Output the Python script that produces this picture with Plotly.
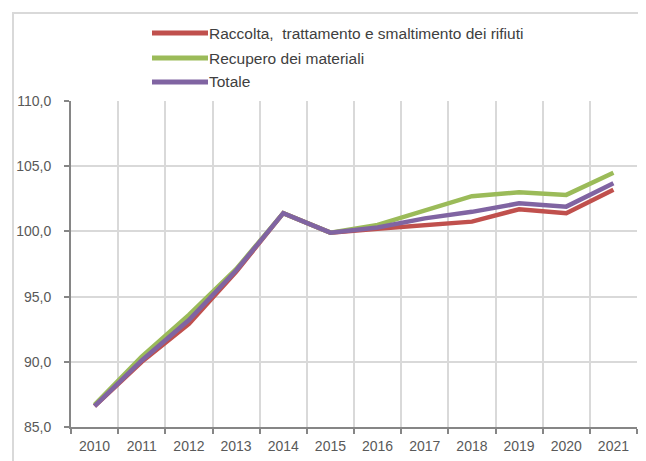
import plotly.graph_objects as go

years = ["2010", "2011", "2012", "2013", "2014", "2015", "2016", "2017", "2018", "2019", "2020", "2021"]
raccolta = [86.6, 90.0, 92.9, 96.9, 101.4, 99.9, 100.2, 100.5, 100.75, 101.7, 101.4, 103.2]
recupero = [86.7, 90.4, 93.6, 97.1, 101.4, 99.9, 100.5, 101.6, 102.7, 103.0, 102.8, 104.5]
totale = [86.6, 90.1, 93.2, 97.0, 101.4, 99.9, 100.3, 101.0, 101.5, 102.15, 101.9, 103.7]

series_names = ["Raccolta,  trattamento e smaltimento dei rifiuti", "Recupero dei materiali", "Totale"]
series_values = [raccolta, recupero, totale]
colors = ["#c0504d", "#9bbb59", "#8064a2"]

# the page body has an 8px margin, so the figure is drawn 8px smaller
OFF = 8
W, H = 646 - OFF, 461 - OFF
ML, MR, MT, MB = 71 - OFF, 9, 101 - OFF, 34
PW, PH = W - ML - MR, H - MT - MB

def px(x):
    return (x - OFF - ML) / PW

def py(y):
    return (H - MB - (y - OFF)) / PH

FONT = "Liberation Sans, Arial, sans-serif"

fig = go.Figure()
for name, vals, c in zip(series_names, series_values, colors):
    fig.add_trace(go.Scatter(x=years, y=vals, mode="lines", name=name,
                             line=dict(color=c, width=4.5), showlegend=False))

shapes = []
annotations = []
# outer frame
shapes.append(dict(type="rect", xref="paper", yref="paper",
                   x0=px(13), x1=px(700), y0=py(13), y1=py(520),
                   line=dict(color="#d9d9d9", width=2), layer="below"))
# manual legend
leg_y = [33, 58, 82]
for name, c, yy in zip(series_names, colors, leg_y):
    shapes.append(dict(type="line", xref="paper", yref="paper",
                       x0=px(152), x1=px(208), y0=py(yy), y1=py(yy),
                       line=dict(color=c, width=5)))
    annotations.append(dict(xref="paper", yref="paper", x=px(207), y=py(yy),
                            xanchor="left", yanchor="middle", text=name, showarrow=False,
                            font=dict(family=FONT, size=15.5, color="#404040")))

fig.update_layout(
    width=W, height=H,
    margin=dict(l=ML, r=MR, t=MT, b=MB),
    paper_bgcolor="white", plot_bgcolor="white",
    separators=",.",
    font=dict(family=FONT, size=14, color="#595959"),
    shapes=shapes, annotations=annotations,
    xaxis=dict(type="category", tickson="boundaries", range=[-0.5, 11.5],
               automargin=False,
               showgrid=True, gridcolor="#d9d9d9", gridwidth=2,
               showline=True, linecolor="#868686", linewidth=2,
               ticks="outside", ticklen=5, tickcolor="#868686", tickwidth=2,
               ticklabelstandoff=5,
               tickfont=dict(size=14, color="#595959")),
    yaxis=dict(range=[85, 110], dtick=5, tick0=85, tickformat=".1f",
               automargin=False,
               showgrid=True, gridcolor="#d9d9d9", gridwidth=2,
               showline=True, linecolor="#868686", linewidth=2,
               ticks="outside", ticklen=5, tickcolor="#868686", tickwidth=2,
               ticklabelstandoff=10,
               tickfont=dict(size=14, color="#595959"), zeroline=False),
)

fig.write_html("out.html")
